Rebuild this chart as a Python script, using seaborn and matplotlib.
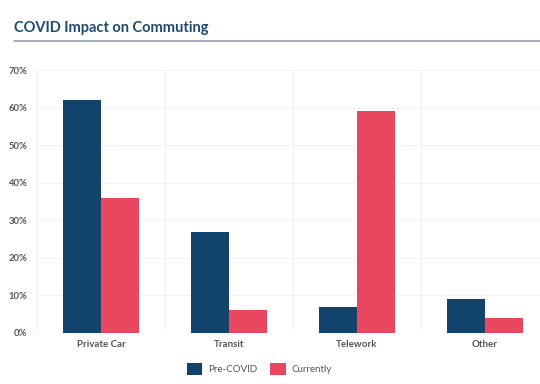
import pandas as pd
import matplotlib.pyplot as plt
import seaborn as sns
from matplotlib.ticker import FixedLocator, PercentFormatter

sns.set_theme(style="white")
plt.rcParams['font.family'] = ['Lato', 'DejaVu Sans']

# datos
modos = ["Private Car", "Transit", "Telework", "Other"]
pre_covid = [62, 27, 7, 9]
actual = [36, 6, 59, 4]
series = ["Pre-COVID", "Currently"]
colores = ["#12436b", "#e8475f"]

df = pd.DataFrame({
    "modo": modos * 2,
    "serie": [series[0]] * len(modos) + [series[1]] * len(modos),
    "valor": pre_covid + actual,
})

fig = plt.figure(figsize=(5.4, 3.84), dpi=100)
ax = fig.add_axes([37 / 540, 1 - 333 / 384, 512 / 540, 263 / 384])

sns.barplot(data=df, x="modo", y="valor", hue="serie", palette=colores,
            width=0.6, gap=0, saturation=1, errorbar=None, linewidth=0,
            ax=ax, legend=True)

ax.set_xlim(-0.5, 3.5)
ax.set_ylim(0, 70)
ax.set_yticks(range(0, 71, 10))
ax.yaxis.set_major_formatter(PercentFormatter(decimals=0))
ax.xaxis.set_minor_locator(FixedLocator([-0.5, 0.5, 1.5, 2.5, 3.5]))
ax.grid(axis="y", which="major", color="#f2f2f2", linewidth=0.8)
ax.grid(axis="x", which="minor", color="#f2f2f2", linewidth=0.8)
ax.set_axisbelow(True)
for s in ax.spines.values():
    s.set_visible(False)
ax.set_xlabel("")
ax.set_ylabel("")
ax.tick_params(axis="both", which="both", length=0)
ax.tick_params(axis="y", labelsize=6.8, labelcolor="#555555", pad=7)
ax.tick_params(axis="x", labelsize=7, labelcolor="#555555", pad=5)
for t in ax.get_xticklabels() + ax.get_yticklabels():
    t.set_fontweight("bold")

handles, labels = ax.get_legend_handles_labels()
ax.get_legend().remove()
fig.legend(handles, labels, loc="center", bbox_to_anchor=(0.48, 0.04), ncol=2,
           frameon=False, fontsize=7, labelcolor="#555555", handlelength=1.6,
           handleheight=1.5, columnspacing=1.3, handletextpad=0.6)

fig.text(14 / 540, 1 - 28 / 384, "COVID Impact on Commuting", fontsize=10.5,
         fontweight="bold", color="#1d4a6e", va="center", ha="left")
fig.add_artist(plt.Line2D([14 / 540, 1], [1 - 41 / 384, 1 - 41 / 384],
                          color="#8da3b8", linewidth=1.2))

fig.savefig("out.png", dpi=100)
